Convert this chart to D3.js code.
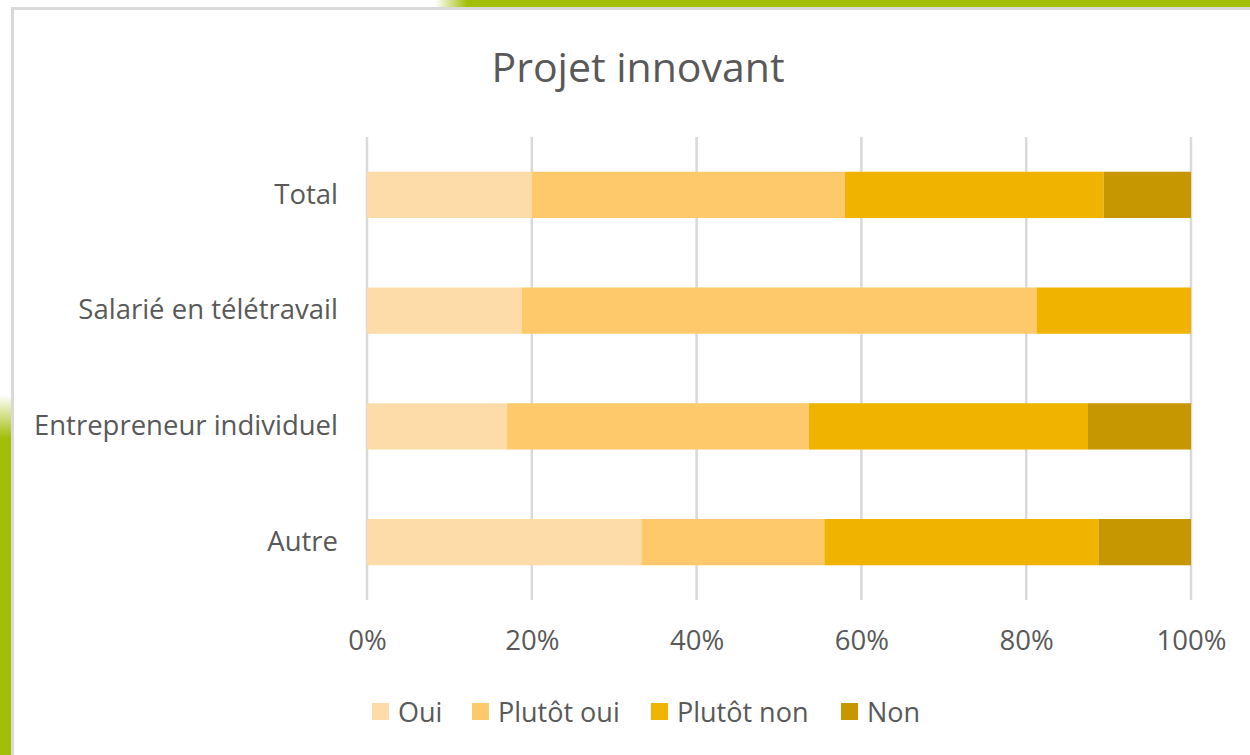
<!DOCTYPE html>
<html>
<head>
<meta charset="utf-8">
<script src="https://cdn.jsdelivr.net/npm/d3@7"></script>
<style>
  body { margin: 0; background: #fff; }
  svg text { font-family: "Open Sans", "Noto Sans", sans-serif; fill: #595959; }
</style>
</head>
<body>
<div id="chart"></div>
<script>
// chart data
var categories = ["Total", "Salarié en télétravail", "Entrepreneur individuel", "Autre"];
var seriesNames = ["Oui", "Plutôt oui", "Plutôt non", "Non"];
var oui       = [20.0, 18.75, 17.0, 33.3];
var plutotOui = [38.0, 62.5, 36.6, 22.2];
var plutotNon = [31.4, 18.75, 33.9, 33.3];
var non       = [10.6, 0, 12.5, 11.2];
var tickValues = [0, 20, 40, 60, 80, 100];
var colors = ["#FEDCAA", "#FEC96B", "#EFB300", "#C69700"];

var width = 1250, height = 755;

var svg = d3.select("#chart")
  .append("svg")
    .attr("width", width)
    .attr("height", height);

// green background decoration
var defs = svg.append("defs");
var gTop = defs.append("linearGradient").attr("id", "gTop");
gTop.append("stop").attr("offset", "0%").attr("stop-color", "#a3be07").attr("stop-opacity", 0);
gTop.append("stop").attr("offset", "4%").attr("stop-color", "#a3be07").attr("stop-opacity", 1);
var gLeft = defs.append("linearGradient").attr("id", "gLeft")
  .attr("x1", 0).attr("y1", 0).attr("x2", 0).attr("y2", 1);
gLeft.append("stop").attr("offset", "0%").attr("stop-color", "#a3be07").attr("stop-opacity", 0);
gLeft.append("stop").attr("offset", "12%").attr("stop-color", "#a3be07").attr("stop-opacity", 1);

svg.append("rect").attr("x", 435).attr("y", 0).attr("width", 815).attr("height", 8).attr("fill", "url(#gTop)");
svg.append("rect").attr("x", 0).attr("y", 395).attr("width", 11).attr("height", 360).attr("fill", "url(#gLeft)");

// chart frame
svg.append("rect")
  .attr("x", 12.5).attr("y", 8.5)
  .attr("width", 1260).attr("height", 760)
  .attr("fill", "#fff")
  .attr("stroke", "#d9d9d9")
  .attr("stroke-width", 3);

// title
svg.append("text")
  .attr("x", 638).attr("y", 82)
  .attr("text-anchor", "middle")
  .style("font-size", "41px")
  .text("Projet innovant");

// scales
var x = d3.scaleLinear().domain([0, 100]).range([367, 1191]);
var y = d3.scaleBand().domain(categories).range([137, 600]).paddingInner(0.6).paddingOuter(0.3);

// gridlines
svg.append("g")
  .selectAll("line")
  .data(tickValues)
  .enter()
  .append("line")
    .attr("x1", d => x(d)).attr("x2", d => x(d))
    .attr("y1", 137).attr("y2", 600)
    .attr("stroke", "#d9d9d9")
    .attr("stroke-width", 2.5);

// x axis labels
var xAxis = svg.append("g")
  .attr("transform", "translate(0,600)")
  .call(d3.axisBottom(x).tickValues(tickValues).tickFormat(d => d + "%").tickSize(0).tickPadding(30));
xAxis.select(".domain").remove();
xAxis.selectAll("text").style("font-size", "27.5px").attr("fill", "#595959");

// y axis labels
var yAxis = svg.append("g")
  .attr("transform", "translate(367,0)")
  .call(d3.axisLeft(y).tickSize(0).tickPadding(29));
yAxis.select(".domain").remove();
yAxis.selectAll("text").style("font-size", "27.5px").attr("fill", "#595959");

// stacked bars
var rows = categories.map((c, i) => ({
  category: c, "Oui": oui[i], "Plutôt oui": plutotOui[i], "Plutôt non": plutotNon[i], "Non": non[i]
}));
var stacked = d3.stack().keys(seriesNames)(rows);

svg.append("g")
  .selectAll("g")
  .data(stacked)
  .enter()
  .append("g")
    .attr("fill", (d, i) => colors[i])
  .selectAll("rect")
  .data(d => d)
  .enter()
  .append("rect")
    .attr("x", d => x(d[0]))
    .attr("y", d => y(d.data.category))
    .attr("width", d => x(d[1]) - x(d[0]))
    .attr("height", y.bandwidth());

// legend
var legendX = [372, 472, 651, 841];
var legend = svg.append("g")
  .selectAll("g")
  .data(seriesNames)
  .enter()
  .append("g")
    .attr("transform", (d, i) => "translate(" + legendX[i] + ",703)");
legend.append("rect")
  .attr("width", 17).attr("height", 17)
  .attr("fill", (d, i) => colors[i]);
legend.append("text")
  .attr("x", 26).attr("y", 18.5)
  .style("font-size", "27px")
  .text(d => d);
</script>
</body>
</html>
